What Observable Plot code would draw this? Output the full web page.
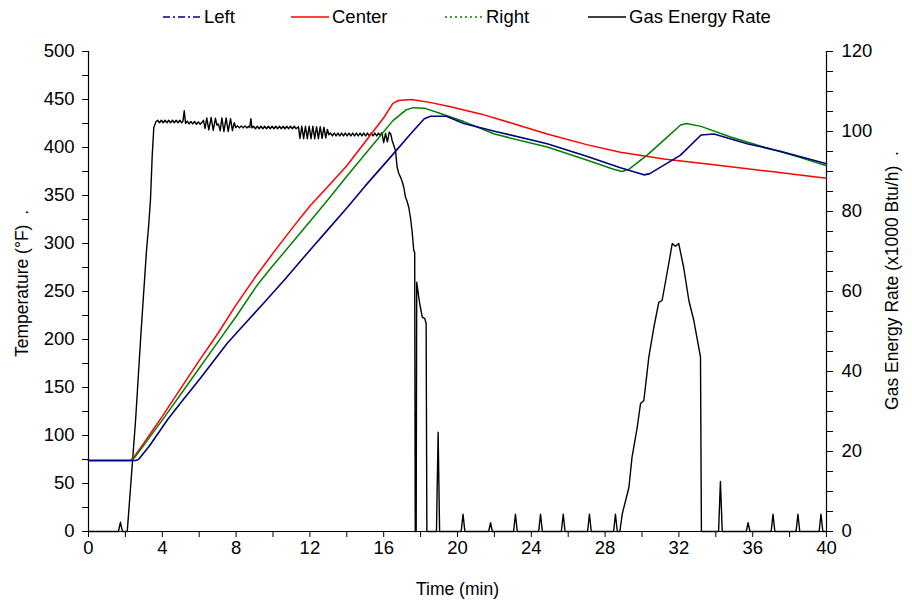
<!DOCTYPE html>
<html><head><meta charset="utf-8">
<script src="https://cdn.jsdelivr.net/npm/d3@7"></script>
<script src="https://cdn.jsdelivr.net/npm/@observablehq/plot@0.6"></script>
<style>
body{margin:0;background:#fff;font-family:"Liberation Sans",Arial,sans-serif;}
#legend{position:relative;height:34px;width:912px;}
.item{position:absolute;top:6px;height:22px;display:flex;align-items:center;font-size:18.5px;color:#000;white-space:nowrap;}
.item svg{margin-right:3px;}
</style></head><body>
<div id="legend"></div>
<div id="chart"></div>
<script>
// ---- data ----
const seriesNames = ["Left", "Center", "Right", "Gas Energy Rate"];
const timeTicks = [0,2,4,6,8,10,12,14,16,18,20,22,24,26,28,30,32,34,36,38,40];
const tempTicks = [0,25,50,75,100,125,150,175,200,225,250,275,300,325,350,375,400,425,450,475,500];
const gasTicks = [0,5,10,15,20,25,30,35,40,45,50,55,60,65,70,75,80,85,90,95,100,105,110,115,120];

// [time (min), temperature (°F)]
const leftData = [[0,74],[2.55,74],[2.7,75],[2.82,77.5],[3.3,89],[4.3,117],[5,134],[6,158],[7,183],[7.52,196],[8.5,217],[9.5,238],[10.59,261.5],[12,293],[13,315],[14,337],[15,360],[16.37,390],[17.5,415],[18.2,430],[18.54,432.5],[19.4,432.5],[20.34,425],[22,417],[24.86,404],[27,391],[28.83,379],[30.1,371.5],[30.4,372.5],[32.09,392],[33.2,413],[33.9,414],[35.7,404],[37.5,396],[40,383]];
const centerData = [[0,74],[2.28,74],[2.46,77.5],[3,92],[3.5,106],[4,120],[5,149],[6,178],[7,206],[8,236],[9,264],[10,290],[11,315],[12,339],[13,360],[14,381],[15,406],[16,431],[16.5,446],[16.8,449],[17.5,450],[18.5,447],[19.5,443],[21.25,435],[23,425],[24.86,414],[27,403],[28.83,395],[31.18,388],[33.9,382],[37,375],[40,368]];
const rightData = [[0,74],[2.3,74],[2.5,77],[3,90],[3.5,103],[4,116],[5,143],[6,170],[7,197],[8,224],[9.05,254],[9.32,261],[10,277],[11,300],[12,323],[13,346],[14,370],[15.46,404],[16.5,428],[17.2,439],[17.6,441.5],[18.2,441],[19,436],[20.34,427],[22,414],[24.86,400.5],[27,387],[28.5,377],[28.93,375],[29.3,377.5],[30.28,392],[31.2,408],[32.09,423.5],[32.4,425],[33.2,422],[34.8,411],[36.5,401],[38.5,390],[40,381]];
// [time (min), gas energy rate (x1000 Btu/h)]
const gasData = [[0,0],[1.62,0],[1.73,2.3],[1.84,0],[2.1,0],[2.55,27.7],[2.85,50],[3.14,70],[3.27,77],[3.36,83],[3.45,93.6],[3.54,101],[3.65,102.4],
[3.75,102.8],[3.85,102.2],[3.95,102.8],[4.05,102.2],[4.15,102.8],[4.25,102.2],[4.35,102.8],[4.45,102.2],[4.55,102.8],[4.65,102.2],[4.75,102.8],[4.85,102.2],[4.95,102.8],[5.05,102.2],[5.12,102.6],[5.19,105.2],[5.26,102.0],[5.35,102.6],[5.45,101.9],[5.55,102.5],[5.65,101.9],[5.75,102.5],[5.85,101.8],[5.95,102.4],[6.05,101.8],[6.15,102.3],
[6.23,102.8],[6.32,100.8],[6.41,103.4],[6.52,100.4],[6.65,103.5],[6.76,100.3],[6.88,103.3],[6.96,101.6],[7.04,101.9],[7.14,100.2],[7.23,103.4],[7.34,100.0],[7.46,103.4],[7.57,100.0],[7.70,103.2],[7.80,100.2],[7.90,102.2],[7.98,101.0],
[8.08,101.4],[8.18,100.9],[8.28,101.4],[8.38,100.9],[8.48,101.4],[8.58,100.9],[8.68,101.3],[8.74,101.0],[8.80,103.2],[8.86,100.9],[8.95,101.3],[9.05,100.7],[9.15,101.3],[9.25,100.7],[9.35,101.3],[9.45,100.7],[9.55,101.3],[9.65,100.7],[9.75,101.3],[9.85,100.7],[9.95,101.3],[10.05,100.7],[10.15,101.3],[10.25,100.7],[10.35,101.3],[10.45,100.7],[10.55,101.3],[10.65,100.7],[10.75,101.3],[10.85,100.7],[10.95,101.3],[11.05,100.7],[11.15,101.3],[11.25,100.7],
[11.38,101.2],[11.46,98.3],[11.56,101.3],[11.66,98.2],[11.76,101.3],[11.86,98.2],[11.96,101.3],[12.06,98.2],[12.16,101.3],[12.26,98.2],[12.36,101.2],[12.46,98.2],[12.56,101.2],[12.66,98.3],[12.76,101.1],[12.86,98.4],[12.95,100.5],[13.03,99.2],
[13.12,99.6],[13.22,98.9],[13.32,99.6],[13.42,98.9],[13.52,99.6],[13.62,98.9],[13.72,99.6],[13.82,98.9],[13.92,99.6],[14.02,98.9],[14.12,99.6],[14.22,98.9],[14.32,99.6],[14.42,98.9],[14.52,99.6],[14.62,98.9],[14.72,99.6],[14.82,98.9],[14.92,99.6],[15.02,98.9],[15.12,99.6],[15.22,98.9],[15.32,99.6],[15.42,98.9],[15.52,99.6],[15.62,98.9],[15.72,99.6],[15.8,99.0],
[15.9,99.7],[16.0,97.2],[16.1,99.5],[16.2,97.4],[16.3,99.8],[16.38,99.4],[16.46,97.7],[16.55,96.5],[16.64,95.2],[16.73,91.0],[16.82,89.5],[16.91,88.6],[17.0,87.5],[17.09,86],[17.18,83.6],[17.27,82.5],[17.36,81],[17.45,78.5],[17.54,75],[17.63,70.2],[17.68,69.8],[17.71,0],[17.76,0],[17.79,62.3],[17.95,57],[18.09,53.6],[18.23,53.2],[18.3,52],[18.34,0],[18.86,0],[18.95,24.8],[19.03,0],
[20.2,0],[20.3,4.3],[20.4,0],[21.69,0],[21.79,2.2],[21.89,0],[23.04,0],[23.14,4.3],[23.24,0],[24.4,0],[24.5,4.3],[24.6,0],[25.63,0],[25.73,4.3],[25.83,0],[27.05,0],[27.15,4.3],[27.25,0],[28.46,0],[28.56,4.3],[28.66,0],[28.8,0],
[28.93,4.4],[29.29,11],[29.46,18.6],[29.74,26],[29.92,32],[30.1,32.75],[30.37,43.6],[30.64,51],[30.91,57.3],[31.09,57.75],[31.45,67],[31.64,72],[31.81,71.3],[31.99,72],[32.26,66],[32.54,57.75],[32.81,52.75],[33.17,43.6],[33.22,0],
[34.15,0],[34.25,12.5],[34.35,0],[35.65,0],[35.75,2.2],[35.85,0],[37.0,0],[37.1,4.3],[37.2,0],[38.35,0],[38.45,4.3],[38.55,0],[39.6,0],[39.7,4.3],[39.8,0],[40,0]];

// ---- styles ----
const colors = {"Left":"#000080","Center":"#ff0000","Right":"#008000","Gas Energy Rate":"#000000"};
const dashes = {"Left":"7,3,2,3","Center":null,"Right":"2,3","Gas Energy Rate":null};
const legendPos = {"Left":163,"Center":291,"Right":445,"Gas Energy Rate":588};

// legend
const lg = document.getElementById("legend");
for (const n of seriesNames) {
  const d = document.createElement("div");
  d.className = "item";
  d.style.left = legendPos[n] + "px";
  d.innerHTML = `<svg width="38" height="10"><line x1="0" y1="5" x2="38" y2="5" stroke="${colors[n]}" stroke-width="1.6" ${dashes[n] ? `stroke-dasharray="${dashes[n]}"` : ""}/></svg><span>${n}</span>`;
  lg.appendChild(d);
}

const k = 500 / 120; // gas units onto temperature scale
const font = "Liberation Sans, Arial, sans-serif";
const toRows = (arr, s) => arr.map(([t, v]) => ({t, v, s}));

const chart = Plot.plot({
  width: 912, height: 567,
  marginLeft: 88, marginRight: 86, marginTop: 17, marginBottom: 70,
  x: {domain: [0, 40]},
  y: {domain: [0, 500]},
  style: {fontFamily: font, fontSize: "18.5px", color: "#000", background: "#fff", overflow: "visible"},
  marks: [
    Plot.axisX({ticks: timeTicks, tickSize: 6, tickPadding: 3, tickFormat: d => d % 4 === 0 ? d : "", label: null, stroke: "#000"}),
    Plot.axisY({ticks: tempTicks, tickSize: 6, tickPadding: 8, tickFormat: d => d % 50 === 0 ? d : "", label: null, anchor: "left"}),
    Plot.axisY({ticks: gasTicks.map(g => g * k), tickSize: 6, tickPadding: 9, anchor: "right", label: null,
      tickFormat: d => { const g = Math.round(d / k); return g % 20 === 0 ? g : ""; }}),
    Plot.ruleX([0, 40], {stroke: "#000", strokeWidth: 1.2}),
    Plot.ruleY([0], {stroke: "#000", strokeWidth: 1.2}),
    Plot.line(toRows(gasData, "Gas Energy Rate"), {x: "t", y: d => d.v * k, stroke: colors["Gas Energy Rate"], strokeWidth: 1.4, curve: "linear"}),
    Plot.line(toRows(centerData, "Center"), {x: "t", y: "v", stroke: colors["Center"], strokeWidth: 1.5}),
    Plot.line(toRows(rightData, "Right"), {x: "t", y: "v", stroke: colors["Right"], strokeWidth: 1.5}),
    Plot.line(toRows(leftData, "Left"), {x: "t", y: "v", stroke: colors["Left"], strokeWidth: 1.6}),
    Plot.text(["Time (min)"], {frameAnchor: "bottom", dy: 63, fontSize: 17.5, fill: "#000", textAnchor: "middle"}),
    Plot.text(["Temperature (°F)  ."], {frameAnchor: "left", dx: -66, dy: -8, rotate: -90, fontSize: 17.5, fill: "#000", textAnchor: "middle"}),
    Plot.text(["Gas Energy Rate (x1000 Btu/h)  ."], {frameAnchor: "right", dx: 66, dy: -11, rotate: -90, fontSize: 17.5, fill: "#000", textAnchor: "middle"})
  ]
});
document.getElementById("chart").appendChild(chart);
</script>
</body></html>
